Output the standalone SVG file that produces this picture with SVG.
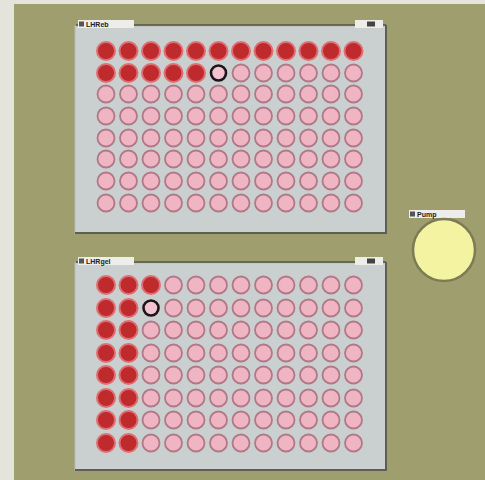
<svg xmlns="http://www.w3.org/2000/svg" xmlns:xlink="http://www.w3.org/1999/xlink" width="485" height="480" viewBox="0 0 485 480">
<style>
.bg{fill:#e4e4dc}
.olive{fill:#9f9e6e}
.panel{fill:#cacfd0;stroke:#b8bcb8;stroke-width:1}
.sh{fill:none;stroke:#5e5e52;stroke-width:2}
.bar{fill:none;stroke:#55554a;stroke-width:1.5}
.lbl{fill:#ededea}
.txt{font-family:"Liberation Sans",Arial,sans-serif;font-size:7px;fill:#222;font-weight:bold}
.r{fill:#bf2a2c;stroke:#df6e72;stroke-width:2}
.p{fill:#f0b5c2;stroke:#b17888;stroke-width:1.8}
.k{fill:#f3c4cf;stroke:#1c1418;stroke-width:2.6}
.pump{fill:#f4f3a2;stroke:#7c7b56;stroke-width:2.5}
</style>
<defs>
<circle id="R" r="9" class="r"/>
<circle id="P" r="8.5" class="p"/>
<circle id="K" r="7.5" class="k"/>
</defs>
<rect class="bg" x="0" y="0" width="485" height="480"/>
<rect class="olive" x="14" y="4" width="471" height="476"/>

<g id="plate-top">
<rect class="panel" x="75" y="26" width="311" height="207"/>
<polyline class="sh" points="386,25 386,233 75,233"/>
<line class="bar" x1="76" y1="25" x2="386" y2="25"/>
<rect class="lbl" x="78" y="20" width="56" height="8"/>
<rect x="79" y="21.5" width="5" height="5" fill="#555"/>
<text class="txt" x="86" y="27">LHReb</text>
<rect class="lbl" x="355" y="20" width="28" height="8"/>
<rect x="367" y="21.5" width="8" height="5" fill="#444"/>
<g>
<use xlink:href="#R" x="106" y="51"/><use xlink:href="#R" x="128.5" y="51"/><use xlink:href="#R" x="151" y="51"/><use xlink:href="#R" x="173.5" y="51"/><use xlink:href="#R" x="196" y="51"/><use xlink:href="#R" x="218.5" y="51"/><use xlink:href="#R" x="241" y="51"/><use xlink:href="#R" x="263.5" y="51"/><use xlink:href="#R" x="286" y="51"/><use xlink:href="#R" x="308.5" y="51"/><use xlink:href="#R" x="331" y="51"/><use xlink:href="#R" x="353.5" y="51"/>
<use xlink:href="#R" x="106" y="73"/><use xlink:href="#R" x="128.5" y="73"/><use xlink:href="#R" x="151" y="73"/><use xlink:href="#R" x="173.5" y="73"/><use xlink:href="#R" x="196" y="73"/><use xlink:href="#K" x="218.5" y="73"/><use xlink:href="#P" x="241" y="73"/><use xlink:href="#P" x="263.5" y="73"/><use xlink:href="#P" x="286" y="73"/><use xlink:href="#P" x="308.5" y="73"/><use xlink:href="#P" x="331" y="73"/><use xlink:href="#P" x="353.5" y="73"/>
<use xlink:href="#P" x="106" y="94"/><use xlink:href="#P" x="128.5" y="94"/><use xlink:href="#P" x="151" y="94"/><use xlink:href="#P" x="173.5" y="94"/><use xlink:href="#P" x="196" y="94"/><use xlink:href="#P" x="218.5" y="94"/><use xlink:href="#P" x="241" y="94"/><use xlink:href="#P" x="263.5" y="94"/><use xlink:href="#P" x="286" y="94"/><use xlink:href="#P" x="308.5" y="94"/><use xlink:href="#P" x="331" y="94"/><use xlink:href="#P" x="353.5" y="94"/>
<use xlink:href="#P" x="106" y="116"/><use xlink:href="#P" x="128.5" y="116"/><use xlink:href="#P" x="151" y="116"/><use xlink:href="#P" x="173.5" y="116"/><use xlink:href="#P" x="196" y="116"/><use xlink:href="#P" x="218.5" y="116"/><use xlink:href="#P" x="241" y="116"/><use xlink:href="#P" x="263.5" y="116"/><use xlink:href="#P" x="286" y="116"/><use xlink:href="#P" x="308.5" y="116"/><use xlink:href="#P" x="331" y="116"/><use xlink:href="#P" x="353.5" y="116"/>
<use xlink:href="#P" x="106" y="138"/><use xlink:href="#P" x="128.5" y="138"/><use xlink:href="#P" x="151" y="138"/><use xlink:href="#P" x="173.5" y="138"/><use xlink:href="#P" x="196" y="138"/><use xlink:href="#P" x="218.5" y="138"/><use xlink:href="#P" x="241" y="138"/><use xlink:href="#P" x="263.5" y="138"/><use xlink:href="#P" x="286" y="138"/><use xlink:href="#P" x="308.5" y="138"/><use xlink:href="#P" x="331" y="138"/><use xlink:href="#P" x="353.5" y="138"/>
<use xlink:href="#P" x="106" y="159"/><use xlink:href="#P" x="128.5" y="159"/><use xlink:href="#P" x="151" y="159"/><use xlink:href="#P" x="173.5" y="159"/><use xlink:href="#P" x="196" y="159"/><use xlink:href="#P" x="218.5" y="159"/><use xlink:href="#P" x="241" y="159"/><use xlink:href="#P" x="263.5" y="159"/><use xlink:href="#P" x="286" y="159"/><use xlink:href="#P" x="308.5" y="159"/><use xlink:href="#P" x="331" y="159"/><use xlink:href="#P" x="353.5" y="159"/>
<use xlink:href="#P" x="106" y="181"/><use xlink:href="#P" x="128.5" y="181"/><use xlink:href="#P" x="151" y="181"/><use xlink:href="#P" x="173.5" y="181"/><use xlink:href="#P" x="196" y="181"/><use xlink:href="#P" x="218.5" y="181"/><use xlink:href="#P" x="241" y="181"/><use xlink:href="#P" x="263.5" y="181"/><use xlink:href="#P" x="286" y="181"/><use xlink:href="#P" x="308.5" y="181"/><use xlink:href="#P" x="331" y="181"/><use xlink:href="#P" x="353.5" y="181"/>
<use xlink:href="#P" x="106" y="203"/><use xlink:href="#P" x="128.5" y="203"/><use xlink:href="#P" x="151" y="203"/><use xlink:href="#P" x="173.5" y="203"/><use xlink:href="#P" x="196" y="203"/><use xlink:href="#P" x="218.5" y="203"/><use xlink:href="#P" x="241" y="203"/><use xlink:href="#P" x="263.5" y="203"/><use xlink:href="#P" x="286" y="203"/><use xlink:href="#P" x="308.5" y="203"/><use xlink:href="#P" x="331" y="203"/><use xlink:href="#P" x="353.5" y="203"/>
</g>
</g>

<g id="plate-bottom">
<rect class="panel" x="75" y="263" width="311" height="207"/>
<polyline class="sh" points="386,262 386,470 75,470"/>
<line class="bar" x1="76" y1="262" x2="386" y2="262"/>
<rect class="lbl" x="78" y="257" width="56" height="8"/>
<rect x="79" y="258.5" width="5" height="5" fill="#555"/>
<text class="txt" x="86" y="264">LHRgel</text>
<rect class="lbl" x="355" y="257" width="28" height="8"/>
<rect x="367" y="258.5" width="8" height="5" fill="#444"/>
<g>
<use xlink:href="#R" x="106" y="285"/><use xlink:href="#R" x="128.5" y="285"/><use xlink:href="#R" x="151" y="285"/><use xlink:href="#P" x="173.5" y="285"/><use xlink:href="#P" x="196" y="285"/><use xlink:href="#P" x="218.5" y="285"/><use xlink:href="#P" x="241" y="285"/><use xlink:href="#P" x="263.5" y="285"/><use xlink:href="#P" x="286" y="285"/><use xlink:href="#P" x="308.5" y="285"/><use xlink:href="#P" x="331" y="285"/><use xlink:href="#P" x="353.5" y="285"/>
<use xlink:href="#R" x="106" y="308"/><use xlink:href="#R" x="128.5" y="308"/><use xlink:href="#K" x="151" y="308"/><use xlink:href="#P" x="173.5" y="308"/><use xlink:href="#P" x="196" y="308"/><use xlink:href="#P" x="218.5" y="308"/><use xlink:href="#P" x="241" y="308"/><use xlink:href="#P" x="263.5" y="308"/><use xlink:href="#P" x="286" y="308"/><use xlink:href="#P" x="308.5" y="308"/><use xlink:href="#P" x="331" y="308"/><use xlink:href="#P" x="353.5" y="308"/>
<use xlink:href="#R" x="106" y="330"/><use xlink:href="#R" x="128.5" y="330"/><use xlink:href="#P" x="151" y="330"/><use xlink:href="#P" x="173.5" y="330"/><use xlink:href="#P" x="196" y="330"/><use xlink:href="#P" x="218.5" y="330"/><use xlink:href="#P" x="241" y="330"/><use xlink:href="#P" x="263.5" y="330"/><use xlink:href="#P" x="286" y="330"/><use xlink:href="#P" x="308.5" y="330"/><use xlink:href="#P" x="331" y="330"/><use xlink:href="#P" x="353.5" y="330"/>
<use xlink:href="#R" x="106" y="353"/><use xlink:href="#R" x="128.5" y="353"/><use xlink:href="#P" x="151" y="353"/><use xlink:href="#P" x="173.5" y="353"/><use xlink:href="#P" x="196" y="353"/><use xlink:href="#P" x="218.5" y="353"/><use xlink:href="#P" x="241" y="353"/><use xlink:href="#P" x="263.5" y="353"/><use xlink:href="#P" x="286" y="353"/><use xlink:href="#P" x="308.5" y="353"/><use xlink:href="#P" x="331" y="353"/><use xlink:href="#P" x="353.5" y="353"/>
<use xlink:href="#R" x="106" y="375"/><use xlink:href="#R" x="128.5" y="375"/><use xlink:href="#P" x="151" y="375"/><use xlink:href="#P" x="173.5" y="375"/><use xlink:href="#P" x="196" y="375"/><use xlink:href="#P" x="218.5" y="375"/><use xlink:href="#P" x="241" y="375"/><use xlink:href="#P" x="263.5" y="375"/><use xlink:href="#P" x="286" y="375"/><use xlink:href="#P" x="308.5" y="375"/><use xlink:href="#P" x="331" y="375"/><use xlink:href="#P" x="353.5" y="375"/>
<use xlink:href="#R" x="106" y="398"/><use xlink:href="#R" x="128.5" y="398"/><use xlink:href="#P" x="151" y="398"/><use xlink:href="#P" x="173.5" y="398"/><use xlink:href="#P" x="196" y="398"/><use xlink:href="#P" x="218.5" y="398"/><use xlink:href="#P" x="241" y="398"/><use xlink:href="#P" x="263.5" y="398"/><use xlink:href="#P" x="286" y="398"/><use xlink:href="#P" x="308.5" y="398"/><use xlink:href="#P" x="331" y="398"/><use xlink:href="#P" x="353.5" y="398"/>
<use xlink:href="#R" x="106" y="420"/><use xlink:href="#R" x="128.5" y="420"/><use xlink:href="#P" x="151" y="420"/><use xlink:href="#P" x="173.5" y="420"/><use xlink:href="#P" x="196" y="420"/><use xlink:href="#P" x="218.5" y="420"/><use xlink:href="#P" x="241" y="420"/><use xlink:href="#P" x="263.5" y="420"/><use xlink:href="#P" x="286" y="420"/><use xlink:href="#P" x="308.5" y="420"/><use xlink:href="#P" x="331" y="420"/><use xlink:href="#P" x="353.5" y="420"/>
<use xlink:href="#R" x="106" y="443"/><use xlink:href="#R" x="128.5" y="443"/><use xlink:href="#P" x="151" y="443"/><use xlink:href="#P" x="173.5" y="443"/><use xlink:href="#P" x="196" y="443"/><use xlink:href="#P" x="218.5" y="443"/><use xlink:href="#P" x="241" y="443"/><use xlink:href="#P" x="263.5" y="443"/><use xlink:href="#P" x="286" y="443"/><use xlink:href="#P" x="308.5" y="443"/><use xlink:href="#P" x="331" y="443"/><use xlink:href="#P" x="353.5" y="443"/>
</g>
</g>

<g id="pump">
<rect class="lbl" x="409" y="210" width="56" height="8"/>
<rect x="410" y="211.5" width="5" height="5" fill="#555"/>
<text class="txt" x="417" y="217">Pump</text>
<circle class="pump" cx="444" cy="250" r="31"/>
</g>

<g id="connectors"></g>
</svg>
